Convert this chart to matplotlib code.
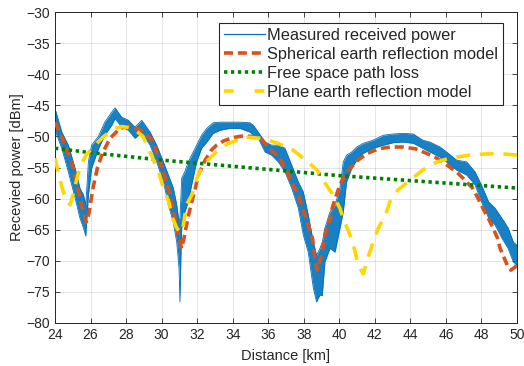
import matplotlib
matplotlib.use("Agg")
import matplotlib.pyplot as plt
from matplotlib.lines import Line2D

# ---- data ----
meas_x = [24.0, 24.38, 24.75, 25.13, 25.4, 25.6, 25.73, 25.88, 26.06, 26.44, 26.8, 27.19, 27.38,
          27.75, 28.13, 28.5, 28.88, 29.35, 29.72, 30.1, 30.38, 30.66, 30.85, 30.98, 31.03, 31.08,
          31.13, 31.3, 31.5, 31.69, 31.97, 32.25, 32.54, 32.9, 33.29, 33.85, 34.4, 34.97, 35.16,
          35.44, 35.82, 36.19, 36.57, 36.94, 37.32, 37.69, 37.97, 38.25, 38.54, 38.72, 38.91, 39.04,
          39.19, 39.47, 39.76, 40.04, 40.22, 40.41, 40.7, 40.98, 41.35, 41.91, 42.48, 43.04, 43.6,
          44.16, 44.7, 45.1, 45.67, 46.13, 46.6, 47.17, 47.64, 48.0, 48.4, 48.76, 49.14, 49.5, 49.8, 50.0]
meas_lo = [-49.0, -51.9, -55.7, -59.9, -63.1, -64.7, -66.0, -59.4, -55.1, -52.0, -49.8, -48.2, -47.1,
           -48.5, -49.0, -50.3, -49.3, -51.4, -54.1, -57.3, -61.0, -63.8, -67.0, -71.2, -76.6, -70.0,
           -64.7, -62.2, -60.5, -57.8, -54.1, -51.9, -50.9, -49.5, -49.0, -48.7, -48.7, -49.3, -49.8,
           -50.3, -52.5, -53.0, -54.1, -55.7, -58.3, -61.5, -65.8, -68.6, -74.4, -76.6, -75.5, -75.6,
           -70.2, -68.0, -68.6, -64.7, -62.2, -57.3, -55.1, -53.8, -52.7, -51.9, -51.4, -51.0, -50.9,
           -51.1, -51.9, -52.5, -53.3, -54.3, -55.4, -56.2, -57.8, -60.5, -63.1, -64.2, -66.3, -68.0, -70.2, -70.7]
meas_hi = [-45.5, -49.3, -51.4, -55.1, -58.3, -59.4, -61.0, -54.0, -51.4, -50.0, -47.7, -46.1, -45.4,
           -46.9, -47.4, -48.5, -47.4, -49.3, -51.4, -54.1, -56.2, -58.3, -61.0, -63.8, -63.0, -60.0,
           -56.7, -55.7, -54.1, -53.0, -51.4, -49.8, -48.7, -47.8, -47.7, -47.7, -47.7, -47.8, -48.2,
           -49.3, -50.9, -51.4, -51.4, -51.9, -54.6, -57.3, -58.9, -62.6, -67.0, -69.1, -68.0, -67.0,
           -64.7, -62.2, -61.0, -58.3, -54.1, -53.0, -52.5, -51.7, -51.1, -50.6, -49.8, -49.6, -49.5,
           -49.6, -50.6, -50.9, -51.7, -52.7, -53.8, -54.1, -55.7, -57.8, -60.5, -61.5, -63.1, -64.7, -67.0, -67.5]

sph_x = [24.0, 24.45, 24.95, 25.3, 25.6, 25.75, 25.9, 26.0, 26.15, 26.4, 26.7, 27.1, 27.65, 28.2,
         28.8, 29.4, 29.7, 30.1, 30.45, 30.6, 30.85, 31.0, 31.12, 31.25, 31.45, 31.65, 31.9, 32.05,
         32.45, 32.8, 33.1, 33.5, 34.0, 34.6, 35.0, 35.6, 36.0, 36.5, 36.7, 37.1, 37.3, 37.7, 37.8,
         38.2, 38.5, 38.6, 38.75, 38.9, 39.1, 39.2, 39.5, 39.6, 39.9, 40.04, 40.4, 40.8, 41.05, 41.6,
         42.2, 42.85, 43.6, 44.3, 44.9, 45.5, 46.06, 46.6, 46.96, 47.5, 47.8, 48.2, 48.5, 48.9, 49.05,
         49.45, 49.65, 49.9, 50.0]
sph_y = [-47.7, -50.6, -54.3, -58.6, -62.3, -63.8, -62.5, -60.7, -58.1, -54.9, -52.5, -50.3, -48.7, -48.3,
         -49.0, -50.4, -52.3, -55.7, -59.2, -61.2, -64.7, -66.5, -68.0, -66.5, -63.5, -61.0, -58.3, -56.3,
         -53.8, -52.2, -51.4, -50.7, -50.2, -49.9, -50.0, -50.3, -51.9, -53.0, -53.8, -55.9, -57.3, -59.4, -60.5,
         -63.8, -66.5, -69.1, -71.5, -70.2, -67.5, -65.8, -63.1, -61.5, -58.9, -57.8, -55.7, -54.6, -53.8, -52.7,
         -52.0, -51.7, -51.7, -52.0, -52.7, -53.5, -54.6, -55.7, -56.7, -58.3, -59.9, -62.2, -63.8, -66.3, -68.0,
         -70.7, -71.5, -71.0, -70.5]

fs_x = [24, 26, 28, 30, 32, 34, 36, 38, 40, 42, 44, 46, 48, 50]
fs_y = [-51.9, -52.6, -53.2, -53.8, -54.3, -54.8, -55.3, -55.8, -56.3, -56.7, -57.1, -57.5, -57.9, -58.3]

pl_x = [24.0, 24.2, 24.4, 24.6, 24.85, 25.0, 25.3, 25.5, 25.75, 26.15, 26.7, 27.3, 27.75, 28.4, 28.95,
        29.5, 29.8, 30.1, 30.4, 30.6, 30.85, 31.05, 31.2, 31.4, 31.7, 32.05, 32.45, 33.1, 33.7, 34.7,
        35.6, 36.55, 37.4, 38.1, 38.75, 39.2, 39.65, 40.04, 40.3, 40.6, 40.9, 41.05, 41.35, 41.6, 41.9,
        42.2, 42.6, 42.85, 43.3, 44.0, 44.7, 45.5, 46.2, 47.35, 48.3, 49.2, 50.0]
pl_y = [-53.5, -56.0, -58.3, -60.0, -61.0, -59.5, -56.0, -54.4, -53.0, -51.7, -50.1, -48.8, -48.4, -48.7, -50.0,
        -53.5, -55.5, -58.3, -60.5, -63.0, -64.7, -65.5, -64.7, -61.0, -59.4, -56.2, -54.3, -52.4, -51.2, -50.1,
        -50.3, -51.1, -52.2, -53.8, -55.4, -57.5, -59.4, -61.6, -63.8, -65.8, -68.6, -70.7, -72.1, -69.6, -67.0,
        -64.7, -62.6, -60.5, -58.6, -57.0, -55.4, -54.1, -53.5, -53.0, -52.8, -52.8, -53.0]

labels = ["Measured received power", "Spherical earth reflection model",
          "Free space path loss", "Plane earth reflection model"]
xticks = list(range(24, 51, 2))
yticks = list(range(-80, -29, 5))

# ---- styling ----
plt.rcParams['font.family'] = ['Liberation Sans', 'DejaVu Sans']
plt.rcParams['lines.scale_dashes'] = False
txt = '#262626'
c_meas = '#0072BD'
c_sph = '#D95319'
c_fs = '#008000'
c_pl = '#FFD700'

fig = plt.figure(figsize=(5.24, 3.66), dpi=100)
ax = fig.add_axes([0.105, 0.1175, 0.8816, 0.8495])

ax.fill_between(meas_x, meas_lo, meas_hi, color=c_meas, lw=0, alpha=0.9, zorder=2)
ax.plot(meas_x, meas_lo, color=c_meas, lw=0.6, zorder=2)
ax.plot(meas_x, meas_hi, color=c_meas, lw=0.6, zorder=2)
ax.plot(sph_x, sph_y, color=c_sph, lw=2.6, dashes=(6.5, 3.5), zorder=3)
ax.plot(fs_x, fs_y, color=c_fs, lw=2.6, dashes=(2.4, 2.6), zorder=3)
ax.plot(pl_x, pl_y, color=c_pl, lw=2.6, dashes=(10, 7), zorder=3)

ax.set_xlim(24, 50)
ax.set_ylim(-80, -30)
ax.set_xticks(xticks)
ax.set_yticks(yticks)
ax.tick_params(direction='in', length=3.5, width=0.6, colors=txt, labelsize=10,
               top=True, right=True, labeltop=False, labelright=False)
ax.grid(True, color='#000000', alpha=0.12, lw=0.6)
ax.set_axisbelow(True)
for s in ax.spines.values():
    s.set_color(txt)
    s.set_linewidth(0.7)

ax.set_xlabel("Distance [km]", fontsize=10.5, color=txt, labelpad=5)
ax.set_ylabel("Recevied power [dBm]", fontsize=10.5, color=txt, labelpad=1.5)

handles = [Line2D([], [], color=c_meas, lw=0.9),
           Line2D([], [], color=c_sph, lw=2.6, dashes=(6.5, 3.5)),
           Line2D([], [], color=c_fs, lw=2.6, dashes=(2.4, 2.6)),
           Line2D([], [], color=c_pl, lw=2.6, dashes=(7, 15))]
leg = ax.legend(handles, labels, loc='upper right', bbox_to_anchor=(0.970, 0.965),
                borderaxespad=0, fontsize=11.8, fancybox=False, framealpha=1,
                edgecolor=txt, handlelength=2.5, handletextpad=0.15, labelspacing=0.25,
                borderpad=0.3)
leg.get_frame().set_linewidth(0.8)
for t in leg.get_texts():
    t.set_color(txt)

fig.savefig("out.png", dpi=100)
